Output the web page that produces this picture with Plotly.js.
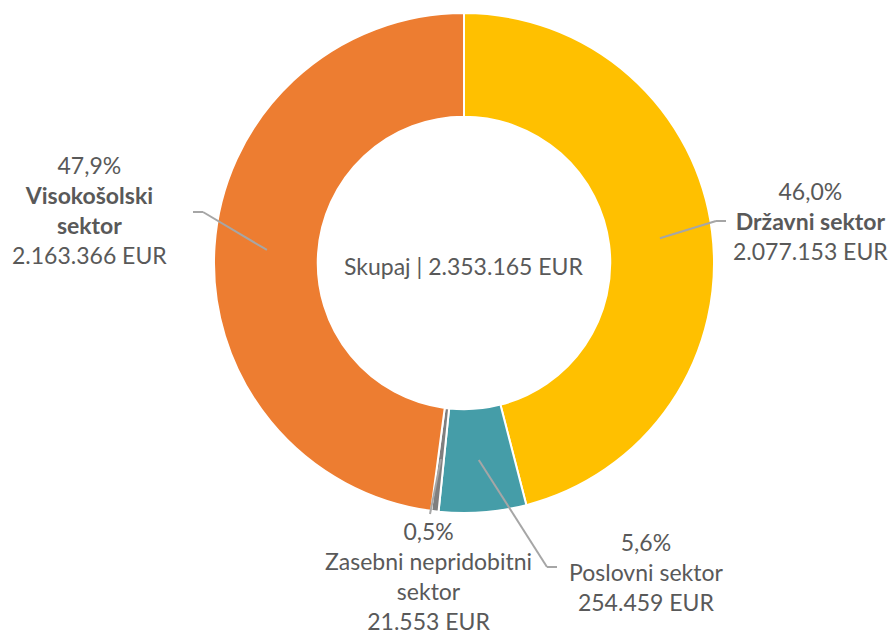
<!DOCTYPE html>
<html><head><meta charset="utf-8">
<script src="https://cdn.plot.ly/plotly-3.0.1.min.js"></script>
<style>html,body{margin:0;padding:0;background:#fff;}#chart{width:891px;height:636px;}</style>
</head><body><div id="chart"></div>
<script>
const sectors = ['Državni sektor', 'Poslovni sektor', 'Zasebni nepridobitni sektor', 'Visokošolski sektor'];
const values = [2077153, 254459, 21553, 2163366];
const percentLabels = ['46,0%', '5,6%', '0,5%', '47,9%'];
const amountLabels = ['2.077.153 EUR', '254.459 EUR', '21.553 EUR', '2.163.366 EUR'];
const nameLabels = ['<b>Državni sektor</b>', 'Poslovni sektor', 'Zasebni nepridobitni<br>sektor', '<b>Visokošolski<br>sektor</b>'];
const colors = ['#FFC000', '#459DA8', '#7F7F7F', '#ED7D31'];
const totalLabel = 'Skupaj | 2.353.165 EUR';

const W = 891, H = 636;
const cx = 464, cy = 263, R = 250;
const font = 'Lato, "Open Sans", sans-serif';
const textColor = '#595959';

const total = values.reduce((a, b) => a + b, 0);
let cum = 0;
const mids = values.map(v => { const m = (cum + v / 2) / total; cum += v; return m * 2 * Math.PI; });

// label anchor positions (pixels) and leader elbows
const labelPos = [[810, 221], [646, 572], [428, 576], [89, 210]];
const elbows = [[[716, 221], [726, 221]], [[547, 567], [557, 567]], [[430, 514], null], [[203, 212], [193, 212]]];

const px = x => x / W, py = y => 1 - y / H;
const shapes = [];
mids.forEach((a, i) => {
  const tx = cx + 0.79 * R * Math.sin(a), ty = cy - 0.79 * R * Math.cos(a);
  const e = elbows[i];
  shapes.push({type: 'line', xref: 'paper', yref: 'paper', x0: px(tx), y0: py(ty), x1: px(e[0][0]), y1: py(e[0][1]), line: {color: '#A6A6A6', width: 2}});
  if (e[1]) shapes.push({type: 'line', xref: 'paper', yref: 'paper', x0: px(e[0][0]), y0: py(e[0][1]), x1: px(e[1][0]), y1: py(e[1][1]), line: {color: '#A6A6A6', width: 2}});
});

const annotations = sectors.map((s, i) => ({
  xref: 'paper', yref: 'paper', x: px(labelPos[i][0]), y: py(labelPos[i][1]),
  xanchor: 'center', yanchor: 'middle', showarrow: false, align: 'center',
  text: percentLabels[i] + '<br>' + nameLabels[i] + '<br>' + amountLabels[i],
  font: {family: font, size: 23, color: textColor}
}));
annotations.push({xref: 'paper', yref: 'paper', x: px(cx), y: py(266), xanchor: 'center', yanchor: 'middle', showarrow: false,
  text: totalLabel, font: {family: font, size: 23, color: textColor}});

const data = [{
  type: 'pie', labels: sectors, values: values, hole: 0.585, sort: false, direction: 'clockwise', rotation: 0,
  marker: {colors: colors, line: {color: '#FFFFFF', width: 2}},
  textinfo: 'none', hoverinfo: 'label+value+percent',
  domain: {x: [px(cx - R), px(cx + R)], y: [py(cy + R), py(cy - R)]}
}];

const layout = {
  width: W, height: H, margin: {l: 0, r: 0, t: 0, b: 0},
  paper_bgcolor: '#fff', plot_bgcolor: '#fff', showlegend: false,
  shapes: shapes, annotations: annotations,
  font: {family: font, color: textColor}
};
Plotly.newPlot('chart', data, layout, {displayModeBar: false, staticPlot: true});
</script></body></html>
